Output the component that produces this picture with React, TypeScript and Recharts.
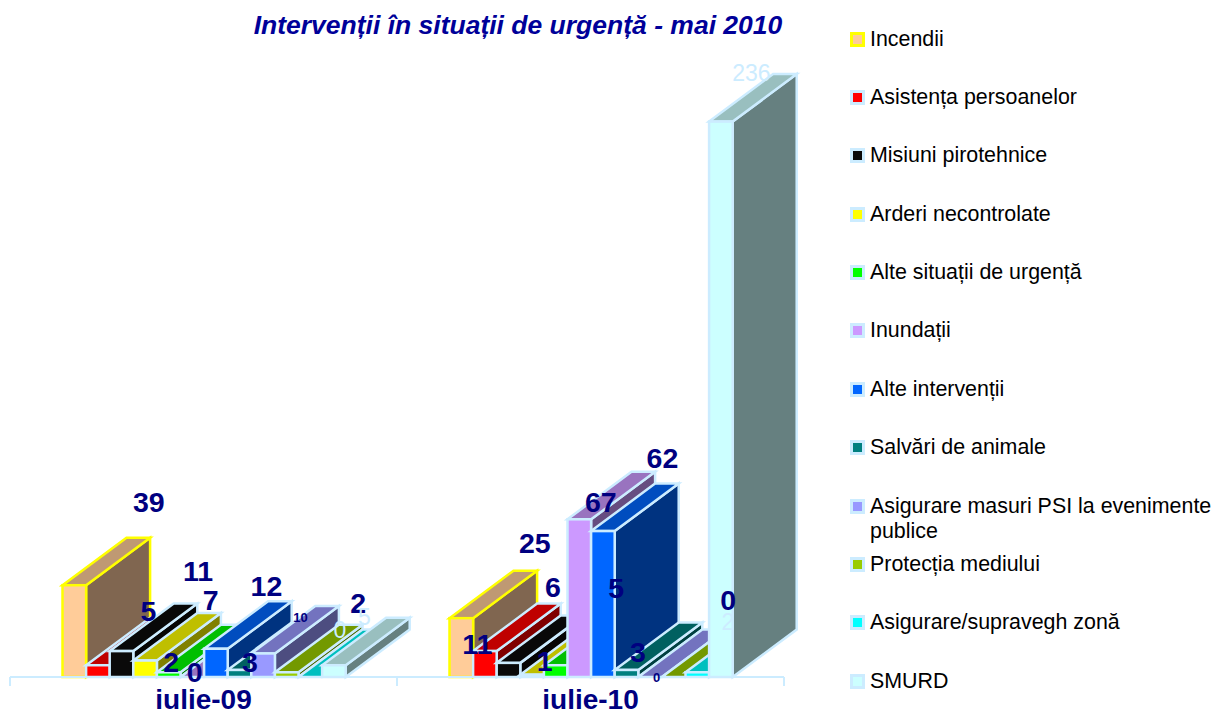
import { Bar, BarChart, LabelList, Legend, XAxis, YAxis } from "recharts";

const CATEGORIES = ["iulie-09", "iulie-10"];

const incendii = [39, 25];
const asistenta = [5, 11];
const pirotehnice = [11, 6];
const arderi = [7, 1];
const alteUrgente = [2, 5];
const inundatii = [0, 67];
const alteInterventii = [12, 62];
const animale = [3, 3];
const psi = [10, 0];
const mediu = [2, 0];
const supraveghere = [0, 2];
const smurd = [5, 236];

const data = CATEGORIES.map((name, i) => ({
  name,
  incendii: incendii[i],
  asistenta: asistenta[i],
  pirotehnice: pirotehnice[i],
  arderi: arderi[i],
  alteUrgente: alteUrgente[i],
  inundatii: inundatii[i],
  alteInterventii: alteInterventii[i],
  animale: animale[i],
  psi: psi[i],
  mediu: mediu[i],
  supraveghere: supraveghere[i],
  smurd: smurd[i]
}));

const NAVY = "#000080";
const PALE = "#CCECFF";
const FONT = "'Liberation Sans', Arial, sans-serif";
const DEPTH_X = 64;
const DEPTH_Y = 47.5;
const BAR_NUDGE = 0.5;
const MARGIN = { top: 18, right: 431, bottom: 8, left: 10 };
const PLOT_WIDTH = 1215 - MARGIN.left - MARGIN.right;

const NORMAL = { size: 28.5, weight: 700, color: NAVY };
const SMALL = { size: 13, weight: 700, color: NAVY };
const LIGHT = { size: 23, weight: 400, color: PALE };

// shift of each value label from the top centre of its bar, one pair per category
const SERIES = [
  { key: "incendii", name: "Incendii", front: "#FFCC99", top: "#BF9973", side: "#806650", edge: "#FFFF00", font: NORMAL, shift: [[75, -83], [74, -75]] },
  { key: "asistenta", name: "Asistența persoanelor", front: "#FF0000", top: "#BF0000", side: "#800000", edge: PALE, font: NORMAL, shift: [[51, -54], [-7, -7]] },
  { key: "pirotehnice", name: "Misiuni pirotehnice", front: "#0A0A0A", top: "#080808", side: "#050505", edge: PALE, font: NORMAL, shift: [[77, -80], [45, -76]] },
  { key: "arderi", name: "Arderi necontrolate", front: "#FFFF00", top: "#BFBF00", side: "#808000", edge: PALE, font: NORMAL, shift: [[66, -61], [13, -14]] },
  { key: "alteUrgente", name: "Alte situații de urgență", front: "#00FF00", top: "#00BF00", side: "#008000", edge: PALE, font: NORMAL, shift: [[3, -10], [61, -77]] },
  { key: "inundatii", name: "Inundații", front: "#CC99FF", top: "#9973BF", side: "#664D80", edge: PALE, font: NORMAL, shift: [[3, -5], [22, -17]] },
  { key: "alteInterventii", name: "Alte intervenții", front: "#0066FF", top: "#004DBF", side: "#003380", edge: PALE, font: NORMAL, shift: [[51, -63], [60, -73]] },
  { key: "animale", name: "Salvări de animale", front: "#008080", top: "#006060", side: "#004040", edge: PALE, font: NORMAL, shift: [[11, -8], [12, -18]] },
  { key: "psi", name: "Asigurare masuri PSI la evenimente publice", front: "#9999FF", top: "#7373BF", side: "#4D4D80", edge: PALE, font: SMALL, shift: [[38, -36], [7, 0]] },
  { key: "mediu", name: "Protecția mediului", front: "#99CC00", top: "#739900", side: "#4D6600", edge: PALE, font: NORMAL, shift: [[72, -69], [55, -77]] },
  { key: "supraveghere", name: "Asigurare/supravegh zonă", front: "#00FFFF", top: "#00BFBF", side: "#008080", edge: PALE, font: LIGHT, shift: [[30, -47], [31, -50]] },
  { key: "smurd", name: "SMURD", front: "#CCFFFF", top: "#99BFBF", side: "#668080", edge: PALE, font: LIGHT, shift: [[31, -48], [31, -49]] }
];

type Serie = (typeof SERIES)[number];

function box(serie: Serie) {
  return function Box({ x: rawX, y, width, height }: any) {
    const x = rawX + BAR_NUDGE;
    const right = x + width;
    const bottom = y + height;
    const top = `${x},${y} ${x + DEPTH_X},${y - DEPTH_Y} ${right + DEPTH_X},${y - DEPTH_Y} ${right},${y}`;
    const side = `${right},${y} ${right + DEPTH_X},${y - DEPTH_Y} ${right + DEPTH_X},${bottom - DEPTH_Y} ${right},${bottom}`;
    return (
      <g stroke={serie.edge} strokeWidth={2.5} strokeLinejoin="miter">
        <polygon points={side} fill={serie.side} />
        <polygon points={top} fill={serie.top} />
        <rect x={x} y={y} width={width} height={height} fill={serie.front} />
      </g>
    );
  };
}

function valueLabel(serie: Serie) {
  return function ValueLabel({ x, y, width, value, index }: any) {
    const [dx, dy] = serie.shift[index];
    return (
      <text
        x={x + width / 2 + dx}
        y={y + dy}
        textAnchor="middle"
        dominantBaseline="central"
        fontFamily={FONT}
        fontSize={serie.font.size}
        fontWeight={serie.font.weight}
        fill={serie.font.color}
      >
        {value}
      </text>
    );
  };
}

function CategoryTick({ x, payload }: any) {
  const half = PLOT_WIDTH / CATEGORIES.length / 2;
  return (
    <g>
      <line x1={x - half} x2={x - half} y1={677} y2={686} stroke={PALE} strokeWidth={2} />
      <line x1={x + half} x2={x + half} y1={677} y2={686} stroke={PALE} strokeWidth={2} />
      <text x={x} y={709} textAnchor="middle" fontFamily={FONT} fontSize={28} fontWeight={700} fill={NAVY}>
        {payload.value}
      </text>
    </g>
  );
}

function LegendList() {
  return (
    <div style={{ fontFamily: FONT, fontSize: 21.4, lineHeight: "25px", color: "#000" }}>
      {SERIES.map((serie) => (
        <div key={serie.key} style={{ display: "flex", height: 58.4, width: 365 }}>
          <span
            style={{
              boxSizing: "border-box",
              width: 15,
              height: 15,
              marginTop: 5,
              marginRight: 5,
              flex: "none",
              background: serie.front,
              border: `3px solid ${serie.edge}`
            }}
          />
          <span>{serie.name}</span>
        </div>
      ))}
    </div>
  );
}

export default function App() {
  return (
    <div style={{ position: "absolute", left: 0, top: 0, width: 1215, height: 715 }}>
      <BarChart width={1215} height={715} data={data} margin={MARGIN} barGap={0} barSize={23.6}>
        <text x={518} y={34} textAnchor="middle" fontFamily={FONT} fontSize={26.5} fontWeight={700} fontStyle="italic" fill="#000099">
          Intervenții în situații de urgență - mai 2010
        </text>
        <XAxis
          dataKey="name"
          tickLine={false}
          axisLine={{ stroke: PALE, strokeWidth: 2 }}
          tick={<CategoryTick />}
          interval={0}
          tickMargin={0}
        />
        <YAxis hide domain={[0, 280]} />
        <Legend
          layout="vertical"
          align="center"
          verticalAlign="middle"
          content={<LegendList />}
          wrapperStyle={{ left: 850, top: 26.5, width: 365, bottom: "auto", right: "auto" }}
        />
        {SERIES.map((serie) => (
          <Bar key={serie.key} dataKey={serie.key} name={serie.name} fill={serie.front} shape={box(serie)} isAnimationActive={false}>
            <LabelList dataKey={serie.key} content={valueLabel(serie)} />
          </Bar>
        ))}
      </BarChart>
    </div>
  );
}
